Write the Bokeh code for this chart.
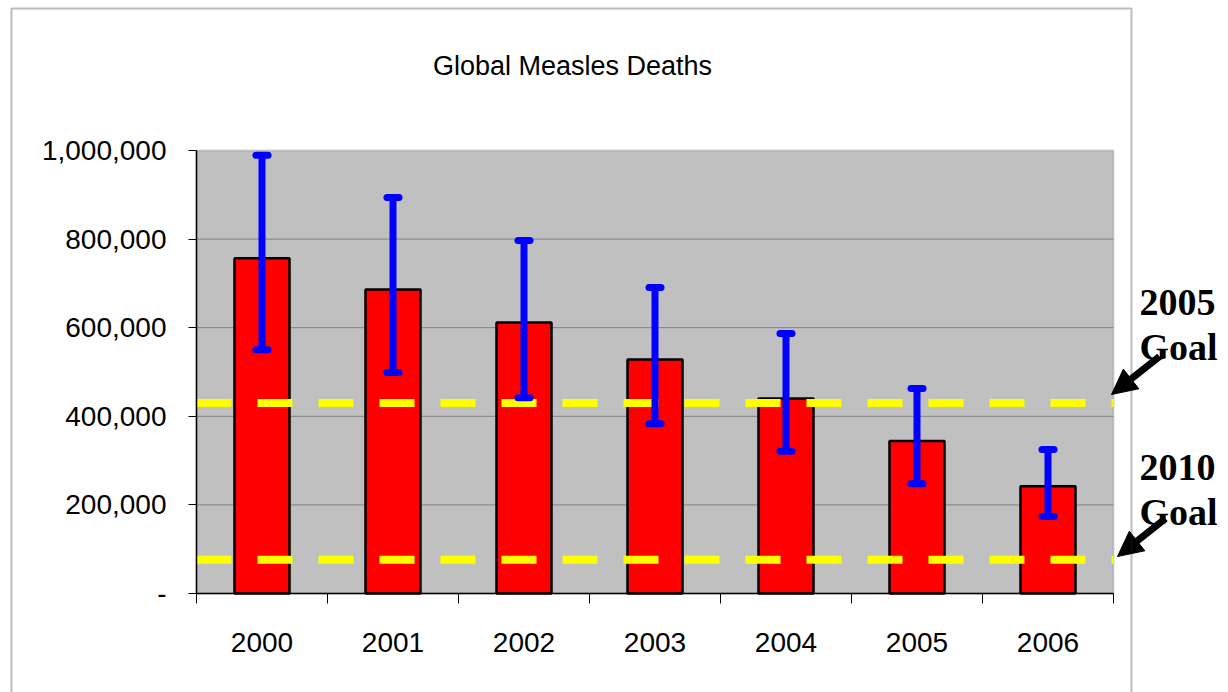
from bokeh.plotting import figure
from bokeh.models import (Range1d, FixedTicker, NumeralTickFormatter, Label, Arrow,
                          NormalHead, BoxAnnotation)
from bokeh.embed import file_html
from bokeh.resources import INLINE

# ---- data ----
years = ["2000", "2001", "2002", "2003", "2004", "2005", "2006"]
deaths = [757000, 686000, 612000, 528000, 440000, 344000, 242000]
upper = [989000, 894000, 797000, 691000, 587000, 463000, 325000]
lower = [550000, 499000, 442000, 383000, 321000, 248000, 174000]
goal_2005 = 430000
goal_2010 = 76000
y_ticks = [0, 200000, 400000, 600000, 800000, 1000000]
y_max = 1000000

# ---- layout (pixels) ----
W, H = 1228, 692
PX_L, PX_R, PX_T, PX_B = 196, 1113, 150, 593
n = len(years)
kx = (PX_R - PX_L) / n
ky = (PX_B - PX_T) / y_max

xpos = [i + 0.5 for i in range(n)]

p = figure(width=W, height=H,
           x_range=Range1d(-PX_L / kx, (W - PX_L) / kx),
           y_range=Range1d(-(H - PX_B) / ky, y_max + PX_T / ky),
           output_backend="svg", toolbar_location=None,
           min_border=0)
p.outline_line_color = None
p.background_fill_color = "white"
p.border_fill_color = "white"
p.xgrid.visible = False
p.ygrid.visible = False

# plot area
p.add_layout(BoxAnnotation(left=0, right=n, bottom=0, top=y_max,
                           fill_color="#C0C0C0", fill_alpha=1.0,
                           line_color="#808080", line_width=2, level="underlay"))
# grid lines
grid_y = [t for t in y_ticks if 0 < t < y_max]
p.segment(x0=[0] * len(grid_y), x1=[n] * len(grid_y), y0=grid_y, y1=grid_y,
          line_color="#808080", line_width=1)

# y axis
ya = p.yaxis[0]
ya.fixed_location = 0
ya.bounds = (0, y_max)
ya.ticker = FixedTicker(ticks=y_ticks)
ya.formatter = NumeralTickFormatter(format="0,0")
ya.major_label_overrides = {0: "-"}
ya.major_tick_out = 8
ya.major_tick_in = 0
ya.minor_tick_out = 0
ya.minor_tick_in = 0
ya.axis_line_color = "black"
ya.axis_line_width = 1.5
ya.major_tick_line_color = "black"
ya.major_label_text_font = "Liberation Sans"
ya.major_label_text_font_size = "28px"
ya.major_label_text_color = "black"
ya.major_label_standoff = 22

# x axis
xa = p.xaxis[0]
xa.fixed_location = 0
xa.bounds = (0, n)
xa.ticker = FixedTicker(ticks=xpos, minor_ticks=list(range(n + 1)))
xa.major_label_overrides = {x: y for x, y in zip(xpos, years)}
xa.major_tick_out = 0
xa.major_tick_in = 0
xa.minor_tick_out = 10
xa.minor_tick_in = 0
xa.minor_tick_line_color = "black"
xa.axis_line_color = "black"
xa.axis_line_width = 1.5
xa.major_label_text_font = "Liberation Sans"
xa.major_label_text_font_size = "28px"
xa.major_label_text_color = "black"
xa.major_label_standoff = 29

# bars
p.vbar(x=xpos, top=deaths, bottom=0, width=0.42,
       fill_color="#FF0000", line_color="black", line_width=2.5)

# goal lines
for g in (goal_2005, goal_2010):
    p.segment(x0=[0], x1=[n], y0=[g], y1=[g], line_color="#FFFF00",
              line_width=8, line_dash="35 26")

# error bars
p.segment(x0=xpos, y0=lower, x1=xpos, y1=upper, line_color="#0000FF", line_width=7)
cap = 0.046
for ys in (upper, lower):
    p.segment(x0=[x - cap for x in xpos], y0=ys, x1=[x + cap for x in xpos], y1=ys,
              line_color="#0000FF", line_width=7, line_cap="round")

# outer chart box (screen units, y up from bottom)
p.add_layout(BoxAnnotation(left=11, right=1131, top=H - 8, bottom=-10,
                           left_units="screen", right_units="screen",
                           top_units="screen", bottom_units="screen",
                           fill_color=None, fill_alpha=0, line_color="#222222",
                           line_width=2, level="overlay"))

# title
p.add_layout(Label(x=572, y=H - 65, x_units="screen", y_units="screen",
                   text="Global Measles Deaths", text_font="Liberation Sans",
                   text_font_size="27px", text_color="black",
                   text_align="center", text_baseline="alphabetic"))

# goal annotations
for txt, yy in (("2005", 302), ("Goal", 346), ("2010", 467), ("Goal", 511)):
    p.add_layout(Label(x=1139, y=H - yy, x_units="screen", y_units="screen", text=txt,
                       text_font="Liberation Serif", text_font_style="bold",
                       text_font_size="38px", text_color="black",
                       text_align="left", text_baseline="alphabetic"))

# arrows
for (xs, ys_, xe, ye) in ((1159, 356, 1111, 394), (1165, 518, 1117, 556)):
    p.add_layout(Arrow(end=NormalHead(size=25, fill_color="black", line_color="black"),
                       x_start=xs, y_start=H - ys_, x_end=xe, y_end=H - ye,
                       start_units="screen", end_units="screen",
                       line_color="black", line_width=7))

open("out.html", "w").write(file_html(p, INLINE))
